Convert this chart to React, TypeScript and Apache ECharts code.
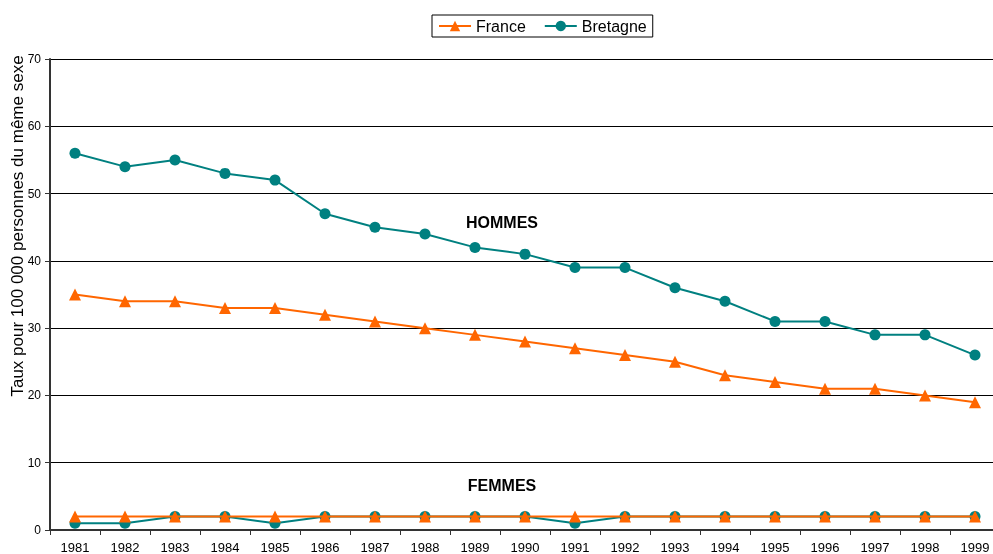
import React, { useEffect, useRef } from "react";
import * as echarts from "echarts";

const years = ["1981","1982","1983","1984","1985","1986","1987","1988","1989","1990","1991","1992","1993","1994","1995","1996","1997","1998","1999"];
const franceHommes = [35,34,34,33,33,32,31,30,29,28,27,26,25,23,22,21,21,20,19];
const bretagneHommes = [56,54,55,53,52,47,45,44,42,41,39,39,36,34,31,31,29,29,26];
const franceFemmes = [2,2,2,2,2,2,2,2,2,2,2,2,2,2,2,2,2,2,2];
const bretagneFemmes = [1,1,2,2,1,2,2,2,2,2,1,2,2,2,2,2,2,2,2];

const ORANGE = "#FF6600";
const TEAL = "#008080";
const FONT = "'Liberation Sans', Arial, sans-serif";

export default function App() {
  const ref = useRef<HTMLDivElement>(null);
  useEffect(() => {
    const chart = echarts.init(ref.current!, null, { renderer: "svg" });
    const mk = (name: string, data: number[], color: string, symbol: string, size: number, z: number) => ({
      name,
      type: "line",
      data,
      symbol,
      symbolSize: size,
      z,
      lineStyle: { color, width: 2 },
      itemStyle: { color },
      emphasis: { disabled: true },
    });
    chart.setOption({
      animation: false,
      textStyle: { fontFamily: FONT },
      grid: { left: 50, right: 0, top: 59, bottom: 23, containLabel: false },
      legend: {
        data: ["France", "Bretagne"],
        top: 15,
        left: 432,
        itemWidth: 32,
        itemHeight: 13,
        itemGap: 18,
        padding: [3, 6, 3, 6],
        borderColor: "#000",
        borderWidth: 1,
        textStyle: { fontSize: 16, color: "#000", fontFamily: FONT },
      },
      xAxis: {
        type: "category",
        data: years,
        boundaryGap: true,
        axisLine: { lineStyle: { color: "#333", width: 2 } },
        axisTick: { show: true, length: 5, lineStyle: { color: "#333" } },
        axisLabel: { color: "#000", fontSize: 13, margin: 11, fontFamily: FONT },
      },
      yAxis: {
        type: "value",
        min: 0,
        max: 70,
        interval: 10,
        axisLine: { show: true, lineStyle: { color: "#333", width: 2 } },
        axisTick: { show: true, length: 5, lineStyle: { color: "#333" } },
        axisLabel: { color: "#000", fontSize: 12, margin: 9, fontFamily: FONT },
        splitLine: { show: true, lineStyle: { color: "#000", width: 1 } },
      },
      graphic: [
        {
          type: "text",
          x: 17,
          y: 226,
          rotation: Math.PI / 2,
          style: {
            text: "Taux pour 100 000 personnes du même sexe",
            fontSize: 17,
            fontFamily: FONT,
            fill: "#000",
            align: "center",
            verticalAlign: "middle",
          },
        },
        {
          type: "text",
          x: 502,
          y: 222,
          style: { text: "HOMMES", fontSize: 16, fontWeight: "bold", fontFamily: FONT, fill: "#000", align: "center", verticalAlign: "middle" },
        },
        {
          type: "text",
          x: 502,
          y: 485,
          style: { text: "FEMMES", fontSize: 16, fontWeight: "bold", fontFamily: FONT, fill: "#000", align: "center", verticalAlign: "middle" },
        },
      ],
      series: [
        mk("Bretagne", bretagneHommes, TEAL, "circle", 11, 2),
        mk("Bretagne", bretagneFemmes, TEAL, "circle", 11, 2),
        mk("France", franceHommes, ORANGE, "triangle", 12, 3),
        mk("France", franceFemmes, ORANGE, "triangle", 12, 3),
      ],
    });
    return () => chart.dispose();
  }, []);
  return <div ref={ref} style={{ position: "fixed", left: 0, top: 0, width: 1000, height: 554 }} />;
}
